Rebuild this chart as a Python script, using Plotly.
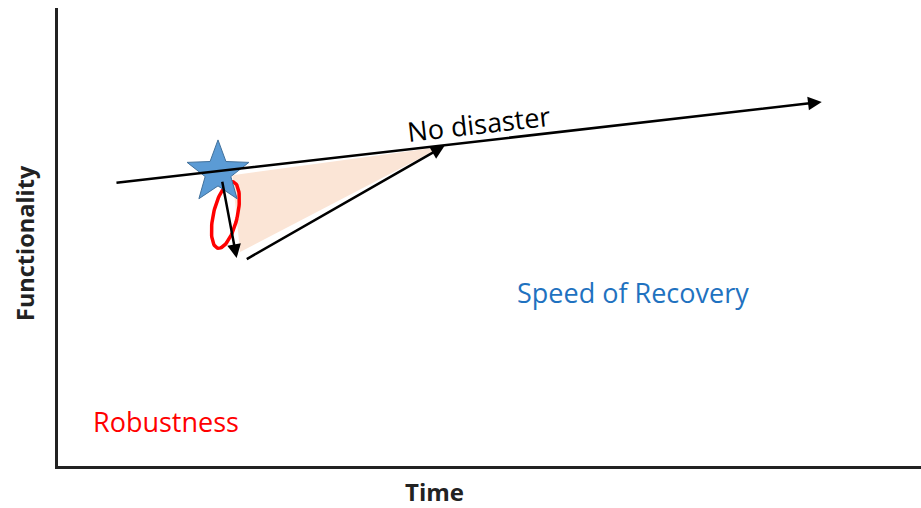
import numpy as np
import plotly.graph_objects as go

# Conceptual resilience-triangle values (time, functionality), axes 0..100
baseline_time = [6.6, 88.5]
baseline_func = [61.8, 79.5]
disaster_time = 18.54
disaster_func = 64.1
drop_start = (19.0, 62.4)
drop_end = (20.7, 45.4)
recovery_start = (21.7, 45.0)
recovery_end = (44.8, 69.9)
triangle_time = [20.2, 21.1, 44.5]
triangle_func = [63.5, 46.7, 69.7]
robust_center = (19.4, 54.8)

W, H = 921, 508
L, R, T, B = 58, 0, 8, 42
pw, ph = W - L - R, H - T - B
sx, sy = pw / 100.0, ph / 100.0

fig = go.Figure()

# shaded triangle
fig.add_trace(go.Scatter(x=triangle_time + [triangle_time[0]], y=triangle_func + [triangle_func[0]],
                         fill="toself", fillcolor="#FBE5D6", line=dict(width=0),
                         mode="lines", hoverinfo="skip", showlegend=False))

# robustness ellipse (built in pixel space, then mapped back to data units)
t = np.linspace(0, 2 * np.pi, 90)
a_px, b_px, ang = 34, 12, np.deg2rad(13)
cx_px, cy_px = robust_center[0] * sx, robust_center[1] * sy
ex = b_px * np.cos(t)
ey = a_px * np.sin(t)
rx = ex * np.cos(ang) + ey * np.sin(ang)
ry = -ex * np.sin(ang) + ey * np.cos(ang)
fig.add_trace(go.Scatter(x=(cx_px + rx) / sx, y=(cy_px + ry) / sy, mode="lines",
                         line=dict(color="#FF0000", width=3.5), hoverinfo="skip", showlegend=False))

def arrow(p0, p1, w=2.5):
    fig.add_annotation(x=p1[0], y=p1[1], ax=p0[0], ay=p0[1], xref="x", yref="y",
                       axref="x", ayref="y", showarrow=True, arrowhead=2,
                       arrowsize=1.1, arrowwidth=w, arrowcolor="#000000", text="")

arrow((baseline_time[0], baseline_func[0]), (baseline_time[1], baseline_func[1]))
arrow(drop_start, drop_end)
arrow(recovery_start, recovery_end)

# disaster star (regular 5-point star, pixel space -> data)
Rout, Rin = 32.5, 13.5
k = np.arange(10)
rad = np.where(k % 2 == 0, Rout, Rin)
th = np.pi / 2 + k * np.pi / 5
scx, scy = disaster_time * sx, disaster_func * sy
stx = (scx + rad * np.cos(th)) / sx
sty = (scy + rad * np.sin(th)) / sy
fig.add_trace(go.Scatter(x=list(stx) + [stx[0]], y=list(sty) + [sty[0]], fill="toself",
                         fillcolor="#5B9BD5", mode="lines", line=dict(color="#41719C", width=1),
                         hoverinfo="skip", showlegend=False))

font = "'Open Sans', 'Segoe UI', sans-serif"
fig.add_annotation(x=48.7, y=74.7, xref="x", yref="y", text="No disaster", showarrow=False,
                   textangle=-6.5, xanchor="center", yanchor="middle",
                   font=dict(family=font, size=27, color="#000000"))
fig.add_annotation(x=66.6, y=37.8, xref="x", yref="y", text="Speed of Recovery", showarrow=False,
                   xanchor="center", yanchor="middle",
                   font=dict(family=font, size=27, color="#1F72C0"))
fig.add_annotation(x=12.5, y=9.8, xref="x", yref="y", text="Robustness", showarrow=False,
                   xanchor="center", yanchor="middle",
                   font=dict(family=font, size=27, color="#FF0000"))

fig.add_annotation(x=(434 - L) / pw, y=(H - B - 491) / ph, xref="paper", yref="paper",
                   text="<b>Time</b>", showarrow=False, xanchor="center", yanchor="middle",
                   font=dict(family=font, size=24, color="#222222"))
fig.add_annotation(x=(25 - L) / pw, y=(H - B - 243) / ph, xref="paper", yref="paper",
                   text="<b>Functionality</b>", showarrow=False, textangle=-90,
                   xanchor="center", yanchor="middle",
                   font=dict(family=font, size=23.5, color="#222222"))

axis = dict(range=[0, 100], showgrid=False, zeroline=False, showticklabels=False,
            ticks="", showline=True, linewidth=3, linecolor="#222222", mirror=False, fixedrange=True)
fig.update_layout(width=W, height=H, margin=dict(l=L, r=R, t=T, b=B),
                  paper_bgcolor="white", plot_bgcolor="white",
                  xaxis=axis, yaxis=axis, showlegend=False)

fig.write_html("out.html", config={"displayModeBar": False},
               post_script="document.body.style.margin='0';document.body.style.overflow='hidden';")
